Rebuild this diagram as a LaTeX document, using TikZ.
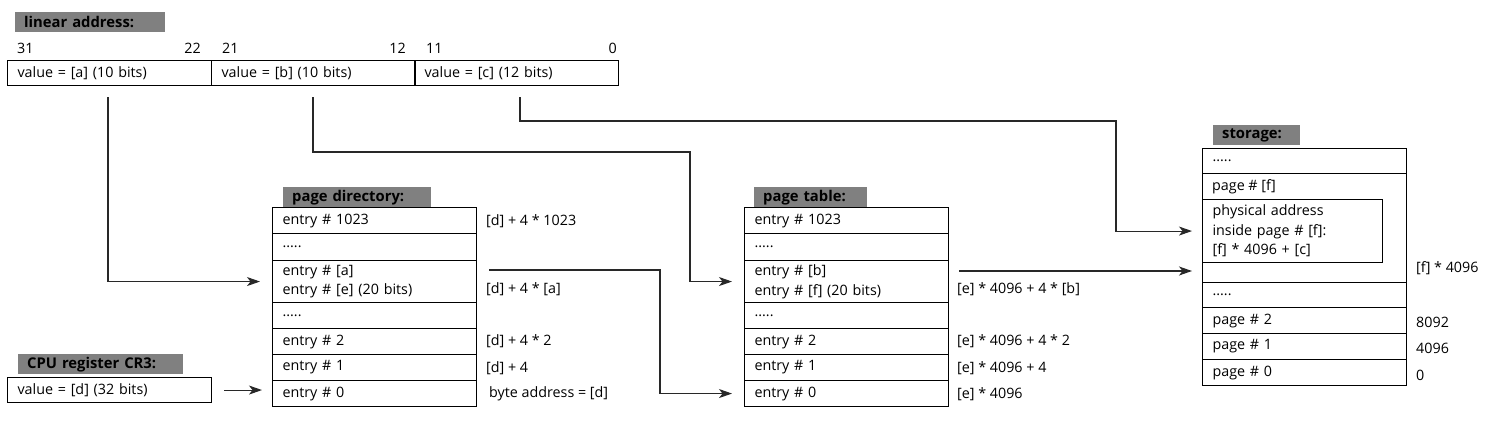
\documentclass[tikz,border=0pt]{standalone}
\usepackage{fontspec}
\setmainfont{Open Sans}
\usetikzlibrary{arrows.meta,calc}
\definecolor{labelgray}{RGB}{128,128,128}
\definecolor{connc}{RGB}{40,40,40}
\begin{document}
\begin{tikzpicture}[x=1pt,y=-1pt,
  every node/.style={font=\fontsize{14.3}{19.5}\selectfont, inner sep=0pt},
  cell/.style={draw, line width=1.1pt, anchor=north west, inner xsep=10pt, align=left,
    text width=184pt, minimum width=204pt, minimum height=#1},
  cell/.default=26pt,
  glabel/.style={fill=labelgray, anchor=north west, inner xsep=9pt, align=left,
    minimum height=20pt, text width=#1, font=\fontsize{14.8}{17}\selectfont\bfseries},
  lbl/.style={anchor=west},
  lble/.style={anchor=east},
  conn/.style={draw=connc, line width=1.1pt},
  arr/.style={conn, -{Stealth[length=13pt,width=9pt,inset=3.5pt]}},
]
\useasboundingbox (0,0) rectangle (1505,439);

% linear address
\node[glabel=132pt] (lalbl) at (15,12) {linear address:};
\node[lbl]  (b31) at (17,48) {31};
\node[lble] (b22) at (201,48) {22};
\node[lbl]  (b21) at (222,48) {21};
\node[lble] (b12) at (406,48) {12};
\node[lbl]  (b11) at (426,48) {11};
\node[lble] (b0)  at (617,48) {0};
\node[cell=25pt] (la1) at (7,60) {value = [a] (10 bits)};
\node[cell=25pt] (la2) at (211,60) {value = [b] (10 bits)};
\node[cell=25pt] (la3) at (414,60) {value = [c] (12 bits)};

% page directory
\node[glabel=130pt] (pdlbl) at (283,187) {page directory:};
\node[cell] (pd1023) at (272,207) {entry \# 1023};
\node[cell=27pt] (pdd1) at (272,233) {.....};
\node[cell=42pt] (pdA) at (272,260) {entry \# [a]\\entry \# [e] (20 bits)};
\node[cell] (pdd2) at (272,302) {.....};
\node[cell] (pd2) at (272,328) {entry \# 2};
\node[cell] (pd1) at (272,354) {entry \# 1};
\node[cell] (pd0) at (272,380) {entry \# 0};
\node[lbl] (pdr1023) at (486,221) {[d] + 4 * 1023};
\node[lbl] (pdrA) at (486,289) {[d] + 4 * [a]};
\node[lbl] (pdr2) at (486,341) {[d] + 4 * 2};
\node[lbl] (pdr1) at (486,368) {[d] + 4};
\node[lbl] (pdr0) at (489,394) {byte address = [d]};

% page table
\node[glabel=95pt] (ptlbl) at (754,187) {page table:};
\node[cell] (pt1023) at (744,207) {entry \# 1023};
\node[cell=27pt] (ptd1) at (744,233) {.....};
\node[cell=42pt] (ptB) at (744,260) {entry \# [b]\\entry \# [f] (20 bits)};
\node[cell] (ptd2) at (744,302) {.....};
\node[cell] (pt2) at (744,328) {entry \# 2};
\node[cell] (pt1) at (744,354) {entry \# 1};
\node[cell] (pt0) at (744,380) {entry \# 0};
\node[lbl] (ptrB) at (957,289) {[e] * 4096 + 4 * [b]};
\node[lbl] (ptr2) at (957,341) {[e] * 4096 + 4 * 2};
\node[lbl] (ptr1) at (957,368) {[e] * 4096 + 4};
\node[lbl] (ptr0) at (957,394) {[e] * 4096};

% storage
\node[glabel=69pt] (stlbl) at (1213,125) {storage:};
\node[cell=25pt] (std1) at (1202,148) {.....};
\node[cell=109pt] (stF) at (1202,173) {};
\node[lbl] (stFtxt) at (1212,187) {page \# [f]};
\node[draw, line width=1.1pt, anchor=north west, inner xsep=10pt, align=left,
  text width=160pt, minimum width=180pt, minimum height=63pt] (phys) at (1202,199)
  {physical address\\inside page \# {[f]}:\\{[f]} * 4096 + [c]};
\node[cell=25pt] (std2) at (1202,282) {.....};
\node[cell] (st2) at (1202,307) {page \# 2};
\node[cell] (st1) at (1202,333) {page \# 1};
\node[cell] (st0) at (1202,359) {page \# 0};
\node[lbl] (strF) at (1416,268) {[f] * 4096};
\node[lbl] (str2) at (1416,322) {8092};
\node[lbl] (str1) at (1416,348) {4096};
\node[lbl] (str0) at (1416,375) {0};

% CPU register
\node[glabel=147pt] (crlbl) at (18,354) {CPU register CR3:};
\node[cell=25pt] (cr3) at (7,377) {value = [d] (32 bits)};

% connectors
\coordinate (sa) at (108,97);
\coordinate (sb) at (313,97);
\coordinate (bb) at (690,152);
\coordinate (sc) at (520,97);
\coordinate (cc) at (1116,121);
\coordinate (pdout) at (489,270);
\coordinate (pdmid) at (660,270);
\coordinate (ptout) at (959,271);

\draw[arr, shorten >=12pt] (sa) |- (pdA.west);
\draw[arr, shorten >=12pt] (sb) |- (bb) |- (ptB.west);
\draw[arr, shorten >=10pt] (sc) |- (cc) |- (phys.west);
\draw[arr, shorten >=12pt] (pdout) -- (pdmid) |- (pt0.west);
\draw[arr, shorten >=10pt] (ptout) -- (ptout -| stF.west);
\draw[arr, shorten <=12pt, shorten >=10pt] (cr3.east) -- (cr3.east -| pd0.west);
\end{tikzpicture}
\end{document}
